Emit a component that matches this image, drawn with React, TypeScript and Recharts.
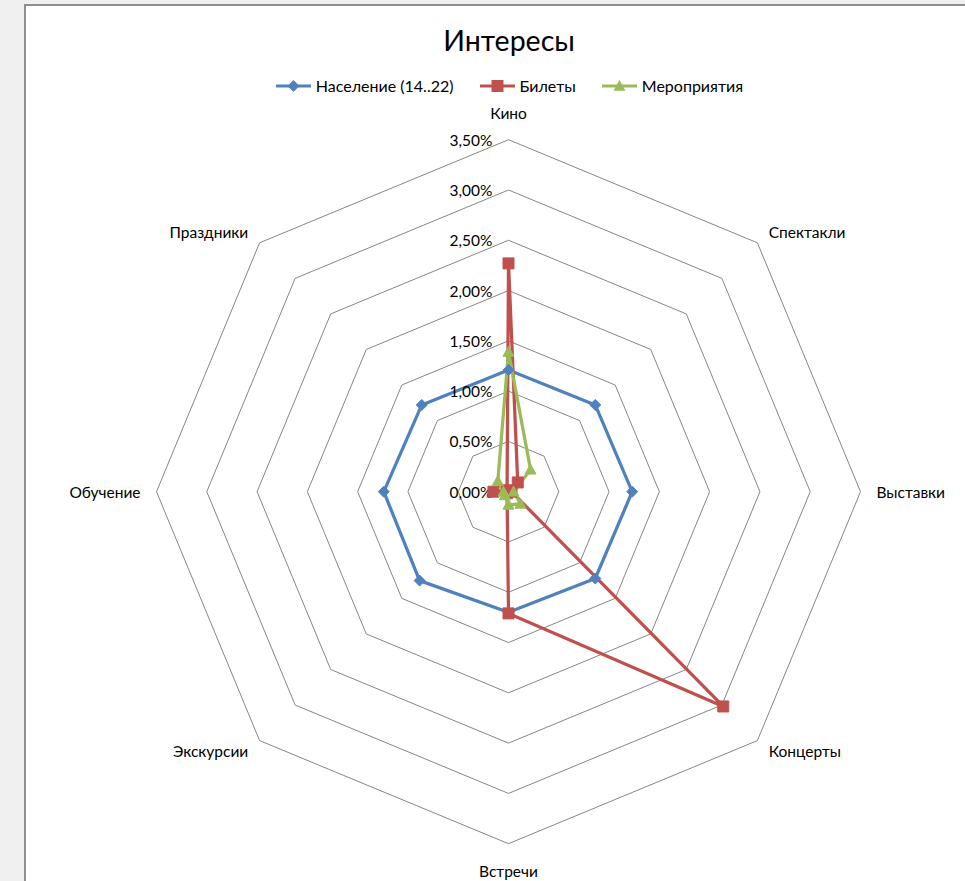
import React from 'react';
import { RadarChart, Radar, PolarGrid, PolarAngleAxis, PolarRadiusAxis, Legend } from 'recharts';

const categories = ['Кино', 'Спектакли', 'Выставки', 'Концерты', 'Встречи', 'Экскурсии', 'Обучение', 'Праздники'];
const population = [1.21, 1.22, 1.23, 1.22, 1.2, 1.25, 1.24, 1.22];
const tickets = [2.27, 0.13, 0.03, 3.02, 1.21, 0.02, 0.15, 0.02];
const events = [1.39, 0.31, 0.05, 0.17, 0.13, 0.05, 0.05, 0.15];
const radiusTicks = [0, 0.5, 1, 1.5, 2, 2.5, 3, 3.5];

const seriesNames = ['Население (14..22)', 'Билеты', 'Мероприятия'];
const seriesColors = ['#4F81BD', '#C0504D', '#9BBB59'];
const seriesShapes = ['diamond', 'square', 'triangle'];

const data = categories.map((name, i) => ({
  name,
  population: population[i],
  tickets: tickets[i],
  events: events[i],
}));

const CX = 508.5;
const CY = 491.7;
const R = 352; // radius of the 3,50% ring
// the radius axis ends up on a [0, 4] domain, so stretch the outer radius to keep 3,50% at R
const OUTER = (R * 4) / 3.5;
const FONT = 'Lato, "Open Sans", sans-serif';

const fmtPct = (v: number) => v.toFixed(2).replace('.', ',') + '%';

const markerPath = (shape: string, x: number, y: number, s: number) => {
  if (shape === 'diamond') return `M${x},${y - s}L${x + s},${y}L${x},${y + s}L${x - s},${y}Z`;
  if (shape === 'square') return `M${x - s},${y - s}H${x + s}V${y + s}H${x - s}Z`;
  return `M${x},${y - s}L${x + s},${y + s * 0.8}L${x - s},${y + s * 0.8}Z`;
};

const makeDot = (shape: string, color: string) => (p: any) => (
  <path key={`${shape}-${p.index}`} d={markerPath(shape, p.cx, p.cy, 5.5)} fill={color} stroke={color} strokeWidth={1} />
);

const AngleTick = (p: any) => {
  const dx = p.x - CX;
  const dy = p.y - CY;
  const len = Math.sqrt(dx * dx + dy * dy) || 1;
  const ux = dx / len;
  const uy = dy / len;
  const vx = CX + ux * R;
  const vy = CY + uy * R;
  const x = vx + ux * 16;
  const y = vy + uy * (Math.abs(uy) > 0.9 ? 27 : 15);
  const anchor = Math.abs(ux) < 0.1 ? 'middle' : ux > 0 ? 'start' : 'end';
  return (
    <text x={x} y={y} textAnchor={anchor} dominantBaseline="central" fontSize={15.5} fontFamily={FONT} fill="#000">
      {p.payload.value}
    </text>
  );
};

const RadiusTick = (p: any) => (
  <text x={p.x - 16} y={p.y} textAnchor="end" dominantBaseline="central" fontSize={15.5} fontFamily={FONT} fill="#000">
    {fmtPct(p.payload.value)}
  </text>
);

const renderLegend = () => (
  <div style={{ display: 'flex', justifyContent: 'center', alignItems: 'center', fontFamily: FONT, fontSize: 16 }}>
    {seriesNames.map((n, i) => (
      <div key={n} style={{ display: 'flex', alignItems: 'center', marginRight: i < 2 ? 25 : 0 }}>
        <svg width={37} height={14}>
          <line x1={1} y1={7} x2={36} y2={7} stroke={seriesColors[i]} strokeWidth={3} />
          <path d={markerPath(seriesShapes[i], 18.5, 7, 6)} fill={seriesColors[i]} />
        </svg>
        <span style={{ marginLeft: 4 }}>{n}</span>
      </div>
    ))}
  </div>
);

export default function App() {
  const keys = ['population', 'tickets', 'events'];
  return (
    <div style={{ position: 'fixed', left: 0, top: 0, width: 965, height: 881, background: '#f0f0f0', overflow: 'hidden' }}>
      <div style={{ position: 'absolute', left: 24, top: 4, width: 1000, height: 1000, background: '#fff', border: '2px solid #8e8e8e' }} />
      <div style={{ position: 'absolute', left: 0, top: 23, width: 1018, textAlign: 'center', fontFamily: FONT, fontSize: 28.5 }}>
        Интересы
      </div>
      <div style={{ position: 'absolute', left: 0, top: 0 }}>
        <RadarChart width={965} height={881} data={data} cx={CX} cy={CY} outerRadius={OUTER} margin={{ top: 0, right: 0, bottom: 0, left: 0 }}>
          <PolarGrid gridType="polygon" radialLines={false} stroke="#868686" strokeWidth={1} />
          <PolarAngleAxis dataKey="name" tick={AngleTick} tickLine={false} axisLine={false} />
          <PolarRadiusAxis
            angle={90}
            type="number"
            domain={[0, 4]}
            ticks={radiusTicks}
            tick={RadiusTick}
            axisLine={false}
            tickLine={false}
          />
          {keys.map((k, i) => (
            <Radar
              key={k}
              name={seriesNames[i]}
              dataKey={k}
              stroke={seriesColors[i]}
              strokeWidth={3.25}
              fill="none"
              fillOpacity={0}
              dot={makeDot(seriesShapes[i], seriesColors[i])}
              isAnimationActive={false}
            />
          ))}
          <Legend verticalAlign="top" content={renderLegend} wrapperStyle={{ top: 76, left: 0, width: 1018 }} />
        </RadarChart>
      </div>
    </div>
  );
}
